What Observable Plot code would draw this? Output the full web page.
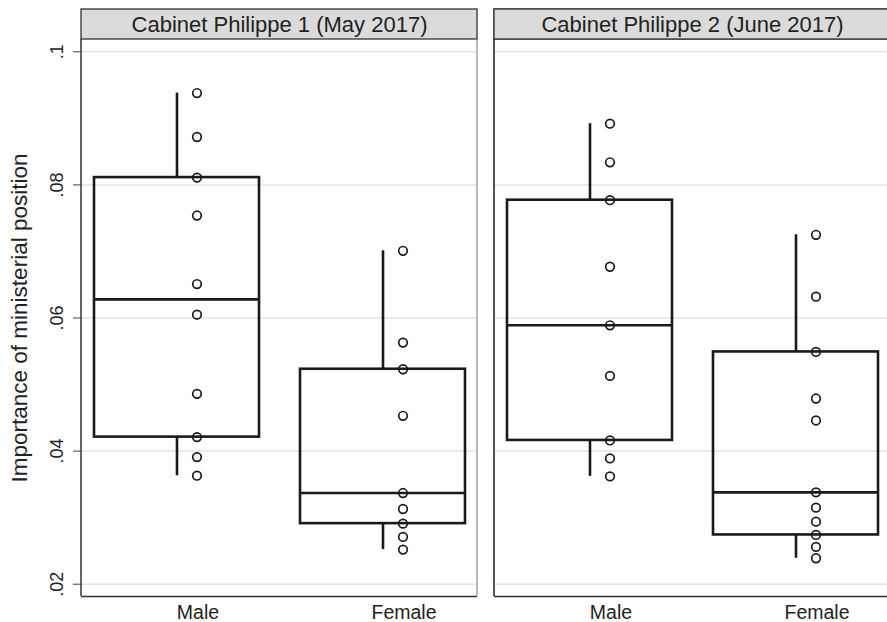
<!DOCTYPE html>
<html>
<head>
<meta charset="utf-8">
<script src="https://cdn.jsdelivr.net/npm/d3@7"></script>
<script src="https://cdn.jsdelivr.net/npm/@observablehq/plot@0.6"></script>
<style>
  html, body { margin: 0; padding: 0; background: #fff; overflow: hidden; }
  #chart svg { display: block; overflow: hidden !important; }
</style>
</head>
<body>
<div id="chart"></div>
<script>
// ---- data ----
const panels = ["Cabinet Philippe 1 (May 2017)", "Cabinet Philippe 2 (June 2017)"];
const sexes = ["Male", "Female"];
const p1Male   = [0.0938, 0.0872, 0.0811, 0.0754, 0.0651, 0.0605, 0.0486, 0.0421, 0.0391, 0.0363];
const p1Female = [0.0701, 0.0563, 0.0523, 0.0453, 0.0337, 0.0313, 0.0291, 0.0271, 0.0252];
const p2Male   = [0.0892, 0.0834, 0.0777, 0.0677, 0.0589, 0.0513, 0.0416, 0.0389, 0.0362];
const p2Female = [0.0725, 0.0632, 0.0549, 0.0479, 0.0446, 0.0338, 0.0315, 0.0294, 0.0274, 0.0256, 0.0239];
const yTicks = [0.02, 0.04, 0.06, 0.08, 0.1];
const yTitle = "Importance of ministerial position";
const yDomain = [0.01815, 0.10185];

// ---- table ----
const groups = [
  {panel: panels[0], sex: sexes[0], values: p1Male},
  {panel: panels[0], sex: sexes[1], values: p1Female},
  {panel: panels[1], sex: sexes[0], values: p2Male},
  {panel: panels[1], sex: sexes[1], values: p2Female}
];
const points = groups.flatMap(g => g.values.map(v => ({panel: g.panel, sex: g.sex, value: v})));

// Stata-style percentiles
function pct(sorted, p) {
  const n = sorted.length, np = n * p, k = Math.floor(np + 1e-9);
  if (Math.abs(np - Math.round(np)) < 1e-9) return (sorted[k - 1] + sorted[k]) / 2;
  return sorted[k];
}
const stats = groups.map(g => {
  const s = g.values.slice().sort((a, b) => a - b);
  const q1 = pct(s, 0.25), med = pct(s, 0.5), q3 = pct(s, 0.75);
  const iqr = q3 - q1;
  const hi = d3.max(s.filter(v => v <= q3 + 1.5 * iqr));
  const lo = d3.min(s.filter(v => v >= q1 - 1.5 * iqr));
  return {panel: g.panel, sex: g.sex, q1, med, q3, lo, hi};
});

const fmt = d => String(d).replace(/^0/, "");
const ink = "#1a1a1a";
const lw = 2.6;
const SVGNS = "http://www.w3.org/2000/svg";
function el(tag, attrs) {
  const e = document.createElementNS(SVGNS, tag);
  for (const k in attrs) e.setAttribute(k, attrs[k]);
  return e;
}

// panel decorations: strip headers, panel edges, left axis line
function panelDecor(index, scales, values, dims) {
  const {width, marginLeft, marginRight, marginTop, marginBottom, height} = dims;
  const g = el("g", {});
  const fx = scales.fx;
  const n = panels.length;
  let starts, bw;
  if (fx) {
    bw = typeof fx.bandwidth === "function" ? fx.bandwidth() : fx.bandwidth;
    starts = panels.map(p => fx(p));
  } else {
    const step = (width - marginRight - marginLeft) / (n - 0.04);
    bw = step * 0.96;
    starts = panels.map((p, i) => marginLeft + i * step);
  }
  const top = marginTop, bottom = height - marginBottom, stripH = 30;
  panels.forEach((p, i) => {
    const last = i === n - 1;
    const x0 = starts[i], x1 = x0 + bw + (last ? 40 : 0);
    g.append(el("rect", {x: x0, y: top - stripH, width: x1 - x0, height: stripH,
      fill: "#dbdbdb", stroke: "#333", "stroke-width": 1.3}));
    if (i > 0) g.append(el("line", {x1: x0, x2: x0, y1: top, y2: bottom, stroke: "#8a8a8a", "stroke-width": 1.2}));
    if (!last) g.append(el("line", {x1: x0 + bw, x2: x0 + bw, y1: top, y2: bottom, stroke: "#8a8a8a", "stroke-width": 1.2}));
  });
  g.append(el("line", {x1: marginLeft, x2: marginLeft, y1: top, y2: bottom, stroke: "#333", "stroke-width": 1.5}));
  return g;
}

const chart = Plot.plot({
  width: 887,
  height: 622,
  marginLeft: 81,
  marginRight: -3.7,
  marginTop: 39,
  marginBottom: 26,
  style: {fontFamily: "'Liberation Sans', Arial, sans-serif", color: "#222", background: "#fff", overflow: "hidden"},
  fx: {domain: panels, paddingInner: 0.04, paddingOuter: 0, axis: null, label: null},
  x: {domain: sexes, paddingInner: 0.2, paddingOuter: 0.06, axis: null, label: null},
  y: {domain: yDomain, axis: null, label: null},
  marks: [
    Plot.gridY(yTicks, {stroke: "#e4e4e4", strokeOpacity: 1, strokeWidth: 1.5}),
    // bottom axis line
    Plot.ruleY([yDomain[0]], {stroke: "#333", strokeWidth: 1.5}),
    panelDecor,
    Plot.text(panels, {fx: d => d, text: d => d, frameAnchor: "top", lineAnchor: "middle", dy: -15, fontSize: 22, fill: "#222"}),
    // y axis
    Plot.axisY(yTicks, {tickFormat: fmt, tickRotate: -90, tickSize: 8, tickPadding: 11, fontSize: 18, stroke: "#444", label: null}),
    Plot.text([yTitle], {fx: () => panels[0], frameAnchor: "left", textAnchor: "middle", lineAnchor: "middle", dx: -62, rotate: -90, fontSize: 22.5, fill: "#222"}),
    // x axis labels
    Plot.axisX({tickSize: 0, tickPadding: 9, fontSize: 19.5, dx: 21, label: null}),
    // boxes
    Plot.barY(stats, {fx: "panel", x: "sex", y1: "q1", y2: "q3", fill: "none", stroke: ink, strokeWidth: lw}),
    Plot.tickY(stats, {fx: "panel", x: "sex", y: "med", stroke: ink, strokeWidth: lw}),
    Plot.ruleX(stats, {fx: "panel", x: "sex", y1: "q3", y2: "hi", stroke: ink, strokeWidth: lw}),
    Plot.ruleX(stats, {fx: "panel", x: "sex", y1: "lo", y2: "q1", stroke: ink, strokeWidth: lw}),
    // points
    Plot.dot(points, {fx: "panel", x: "sex", y: "value", dx: 20, r: 4.3, fill: "none", stroke: ink, strokeWidth: 1.7})
  ]
});
document.getElementById("chart").append(chart);
</script>
</body>
</html>
